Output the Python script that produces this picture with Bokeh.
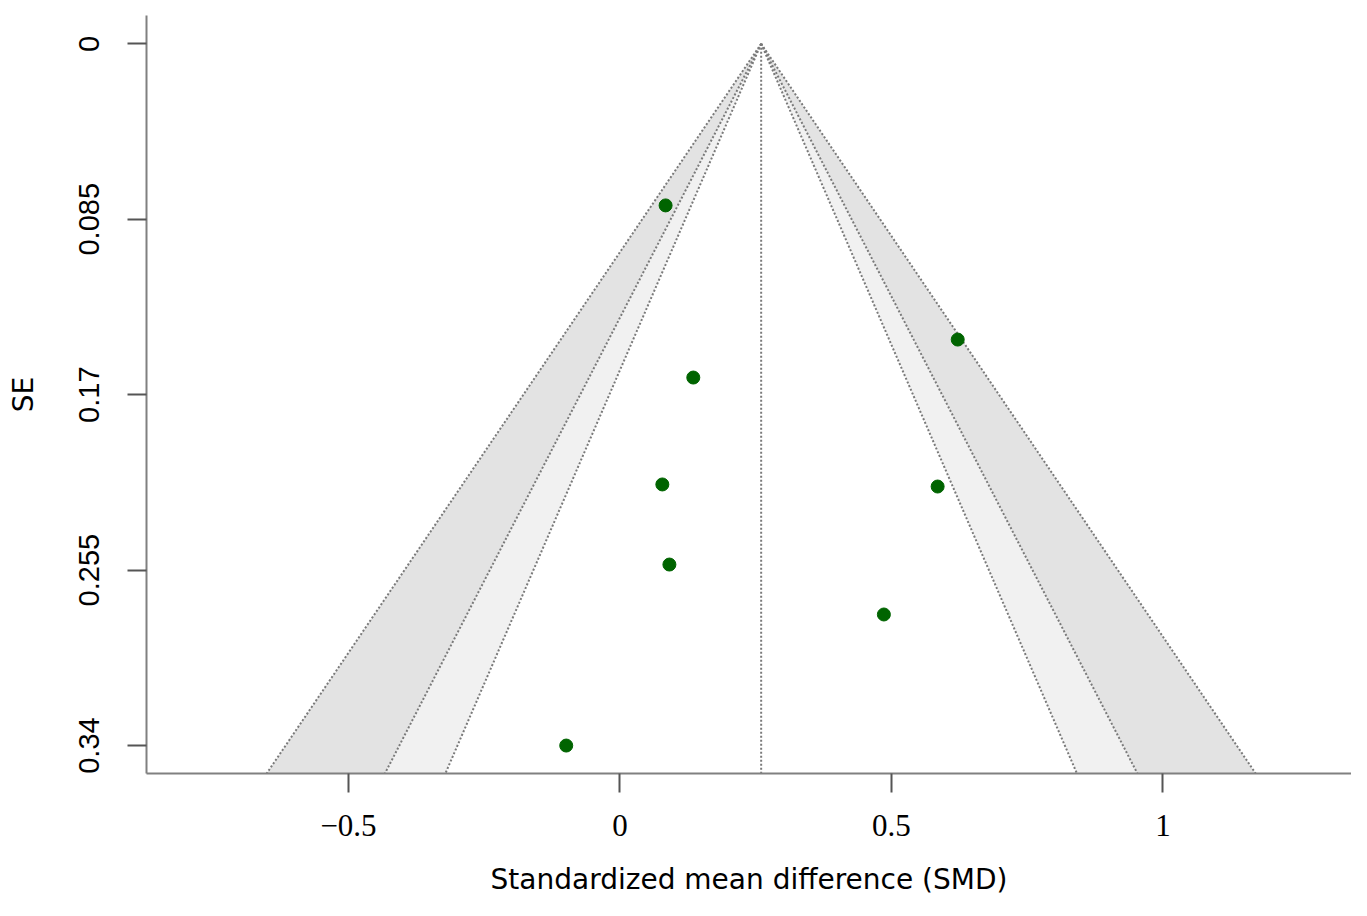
from bokeh.plotting import figure
from bokeh.models import Range1d, FixedTicker
from bokeh.embed import file_html
from bokeh.resources import INLINE

# ---- data ----
smd = [0.084, 0.622, 0.135, 0.078, 0.585, 0.091, 0.486, -0.099]
se = [0.0783, 0.1433, 0.1617, 0.2135, 0.2145, 0.2523, 0.2765, 0.3400]
estimate = 0.26
z_levels = [2.576, 1.96, 1.645]          # 99%, 95%, 90% contours
shades = ["#e3e3e3", "#f1f1f1", "#ffffff"]
x_ticks = [-0.5, 0, 0.5, 1]
x_tick_labels = ["\u22120.5", "0", "0.5", "1"]
y_ticks = [0, 0.085, 0.17, 0.255, 0.34]
y_tick_labels = ["0", "0.085", "0.17", "0.255", "0.34"]

y_bottom = 0.35354
y_top = -0.01371

p = figure(width=1351, height=900, output_backend="svg", toolbar_location=None,
           x_range=Range1d(-0.8720, 1.3472), y_range=Range1d(y_bottom, y_top),
           min_border_left=146, min_border_top=15, min_border_right=0,
           min_border_bottom=127, background_fill_color="white",
           border_fill_color="white")
p.outline_line_color = None
p.xgrid.visible = False
p.ygrid.visible = False

# funnel shading
for z, col in zip(z_levels, shades):
    xs = [estimate, estimate - z * y_bottom, estimate + z * y_bottom]
    ys = [0, y_bottom, y_bottom]
    p.patch(xs, ys, fill_color=col, line_color=None)

for z in z_levels:
    for sgn in (-1, 1):
        p.line([estimate, estimate + sgn * z * y_bottom], [0, y_bottom],
               line_color="#7a7a7a", line_width=2, line_dash="2 2")
p.line([estimate, estimate], [0, y_bottom], line_color="#7a7a7a",
       line_width=2, line_dash="2 2")

p.scatter(smd, se, size=13, fill_color="#006400", line_color="#006400")

# axes
for ax in (p.xaxis[0], p.yaxis[0]):
    ax.axis_line_color = "#808080"
    ax.axis_line_width = 2
    ax.major_tick_line_color = "#555555"
    ax.major_tick_line_width = 2
    ax.major_tick_out = 19
    ax.major_tick_in = 0
    ax.minor_tick_line_color = None
    ax.major_label_text_color = "black"
    ax.axis_label_text_color = "black"
    ax.axis_label_text_font = "DejaVu Sans"
    ax.axis_label_text_font_style = "normal"
    ax.axis_label_text_font_size = "28px"

p.xaxis.ticker = FixedTicker(ticks=x_ticks)
p.xaxis.major_label_overrides = {t: l for t, l in zip(x_ticks, x_tick_labels)}
p.xaxis.major_label_text_font = "Liberation Serif"
p.xaxis.major_label_text_font_size = "31px"
p.xaxis.major_label_standoff = 22
p.xaxis.axis_label = "Standardized mean difference (SMD)"
p.xaxis.axis_label_standoff = 24

p.yaxis.ticker = FixedTicker(ticks=y_ticks)
p.yaxis.major_label_overrides = {t: l for t, l in zip(y_ticks, y_tick_labels)}
p.yaxis.major_label_text_font = "Liberation Sans"
p.yaxis.major_label_text_font_size = "29px"
p.yaxis.major_label_orientation = "vertical"
p.yaxis.major_label_standoff = 28
p.yaxis.axis_label = "SE"
p.yaxis.axis_label_standoff = 37

open("out.html", "w").write(file_html(p, INLINE))
